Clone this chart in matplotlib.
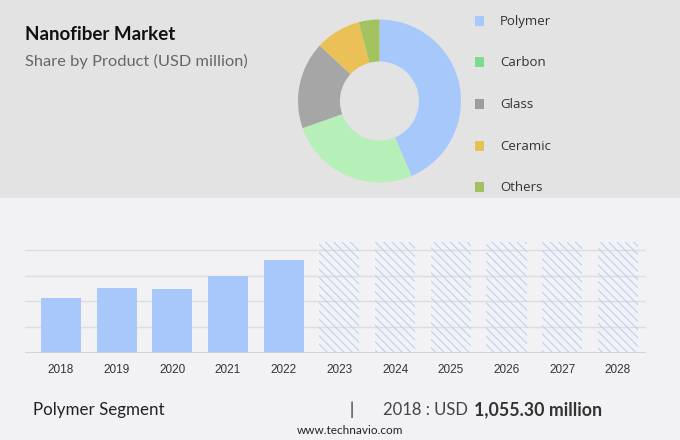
import matplotlib.pyplot as plt
from matplotlib.patches import Rectangle

# Data
products = ["Polymer", "Carbon", "Glass", "Ceramic", "Others"]
shares = [43.6, 26.0, 17.3, 9.0, 4.1]
years = ["2018", "2019", "2020", "2021", "2022", "2023", "2024", "2025", "2026", "2027", "2028"]
history = [1055.3, 1250, 1240, 1490, 1800]
forecast = [2160, 2160, 2160, 2160, 2160, 2160]

slice_colors = ["#a7c8fa", "#b6efb8", "#a6a6a6", "#ebc057", "#a3c260"]
legend_colors = ["#a9c8fb", "#78de8e", "#9c9c9c", "#e6c052", "#a2c060"]

plt.rcParams["hatch.linewidth"] = 0.8

W, H = 680, 440
fig = plt.figure(figsize=(W / 100, H / 100), dpi=100)
fig.patch.set_facecolor("#f2f2f4")

def fx(px):
    return px / W

def fy(py):
    return 1 - py / H

# grey top band
fig.patches.append(Rectangle((0, fy(198)), 1, 198 / H, transform=fig.transFigure,
                             facecolor="#e3e3e3", edgecolor="none", zorder=-5))

# Titles
fig.text(fx(25), fy(35), "Nanofiber Market", fontsize=13.5, fontweight="bold",
         color="#111111", va="center", family="Lato")
fig.text(fx(25), fy(61), "Share by Product (USD million)", fontsize=11.8,
         color="#666666", va="center", family="Lato")

# Donut
cx, cy, r = 379.5, 101, 81.5
ax_pie = fig.add_axes([fx(cx - r), fy(cy + r), 2 * r / W, 2 * r / H])
ax_pie.set_zorder(2)
ax_pie.pie(shares, colors=slice_colors, startangle=90, counterclock=False,
           wedgeprops=dict(width=0.515, linewidth=0))
ax_pie.set_xlim(-1, 1)
ax_pie.set_ylim(-1, 1)
ax_pie.set_aspect("equal")
ax_pie.axis("off")

# Legend
leg_y = [21, 62, 104, 146, 187]
for name, col, y in zip(products, legend_colors, leg_y):
    fig.patches.append(Rectangle((fx(474.5), fy(y + 5)), 10 / W, 10 / H,
                                 transform=fig.transFigure, facecolor=col,
                                 edgecolor="none", zorder=2))
    fig.text(fx(500), fy(y), name, fontsize=9.5, color="#333333", va="center",
             family="Open Sans")

# Bar chart
unit = 500
px_per_unit = 25.7
base = 352.7
top_val = 2300
ax_h = top_val / unit * px_per_unit
ax = fig.add_axes([fx(25), fy(base), 620.7 / W, ax_h / H])
ax.set_facecolor("none")
x_hist = list(range(len(history)))
x_fc = list(range(len(history), len(years)))
ax.bar(x_hist, history, width=0.72, color="#a8c8fb", zorder=2)
ax.bar(x_fc, forecast, width=0.72, facecolor="none", edgecolor="#bcd1f4",
       hatch="\\\\\\\\", linewidth=0, zorder=2)
ax.set_xlim(-0.646, 10.5)
ax.set_ylim(0, top_val)
for v in [500, 1000, 1500, 2000]:
    ax.axhline(v, color="#dddddd", linewidth=1, zorder=1)
ax.axhline(0, color="#d0d0d0", linewidth=1.2, zorder=3)
ax.set_xticks(range(len(years)))
ax.set_xticklabels(years, fontsize=8.5, color="#333333", family="Liberation Sans")
ax.tick_params(axis="x", length=0, pad=8)
ax.set_yticks([])
for s in ax.spines.values():
    s.set_visible(False)

# Footer
fig.text(fx(33), fy(410), "Polymer Segment", fontsize=12.2, color="#222222",
         va="center", family="Lato")
fig.text(fx(352), fy(410), "|", fontsize=12, color="#222222", va="center",
         ha="center", family="Lato")
fig.text(fx(383), fy(410), "2018 : USD", fontsize=12, color="#444444",
         va="center", family="Lato")
fig.text(fx(474), fy(410), "1,055.30 million", fontsize=12.8, fontweight="bold",
         color="#333333", va="center", family="Lato")
fig.text(fx(350), fy(430), "www.technavio.com", fontsize=8.5, color="#222222",
         va="center", ha="center", family="Lato")

fig.savefig("out.png", dpi=100, facecolor=fig.get_facecolor())
